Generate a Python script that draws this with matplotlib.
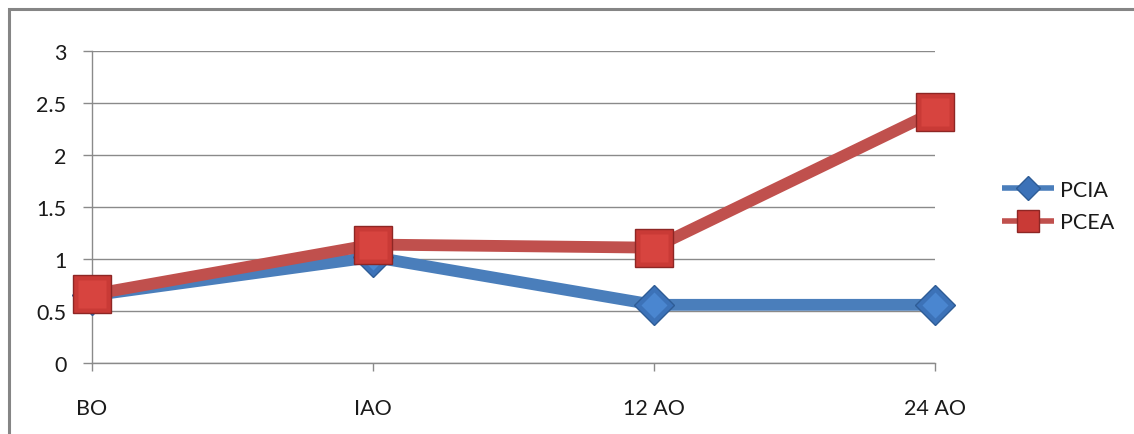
import matplotlib
matplotlib.use("Agg")
import matplotlib.pyplot as plt
from matplotlib.patches import Rectangle
from matplotlib.ticker import FuncFormatter
import numpy as np

categories = ["BO", "IAO", "12 AO", "24 AO"]
pcia = [0.65, 1.02, 0.56, 0.56]
pcea = [0.66, 1.14, 1.11, 2.42]
yticks = [0, 0.5, 1, 1.5, 2, 2.5, 3]

plt.rcParams['font.family'] = ['Lato', 'DejaVu Sans']
FS = 15.5
TXT = "#1a1a1a"
GRID = "#8a8a8a"

fig = plt.figure(figsize=(11.34, 4.35), dpi=100)
ax = fig.add_axes([92 / 1134, 1 - 364 / 435, (935 - 92) / 1134, (364 - 52.3) / 435])

# chart-area border (top and left visible)
fig.patches.append(Rectangle((8.5 / 1134, -0.1), 1.2, (435 - 9.5) / 435 + 0.1,
                             transform=fig.transFigure, fill=False,
                             edgecolor="#858585", linewidth=2.2, zorder=0))

x = np.arange(len(categories))

blue = "#4A7EBB"
red = "#C0504D"

# PCIA
ax.plot(x, pcia, color=blue, lw=8.5, solid_capstyle="butt", zorder=3,
        marker="D", ms=20, mfc="#3C72B8", mec="#2E5C96", mew=1.0, label="PCIA",
        clip_on=False)
ax.plot(x, pcia, ls="none", marker="D", ms=13, mfc="#4A86D0", mec="none",
        zorder=3.1, clip_on=False)

# PCEA
ax.plot(x, pcea, color=red, lw=8.5, solid_capstyle="butt", zorder=4,
        marker="s", ms=27, mfc="#C93A36", mec="#8E2624", mew=1.0, label="PCEA",
        clip_on=False)
ax.plot(x, pcea, ls="none", marker="s", ms=20, mfc="#D7443F", mec="none",
        zorder=4.1, clip_on=False)

ax.set_xlim(0, 3)
ax.set_ylim(0, 3)
ax.set_yticks(yticks)
ax.yaxis.set_major_formatter(FuncFormatter(lambda v, p: f"{v:g}"))
ax.set_xticks(x)
ax.set_xticklabels(categories)

ax.grid(axis="y", color=GRID, lw=1.0, zorder=1)
ax.set_axisbelow(True)
for s in ["top", "right"]:
    ax.spines[s].set_visible(False)
for s in ["left", "bottom"]:
    ax.spines[s].set_color(GRID)
    ax.spines[s].set_linewidth(1.0)

ax.tick_params(axis="y", direction="out", length=6.5, width=1, color=GRID,
               labelsize=FS, labelcolor=TXT, pad=12)
ax.tick_params(axis="x", direction="out", length=6, width=1, color=GRID,
               labelsize=FS, labelcolor=TXT, pad=19)

leg = ax.legend(loc="center left", bbox_to_anchor=(1002 / 1134, 1 - 207 / 435),
                bbox_transform=fig.transFigure, frameon=False, fontsize=FS,
                numpoints=1, markerscale=0.6, borderpad=0, borderaxespad=0,
                handlelength=2.4, handletextpad=0.3, labelspacing=0.6)
for h in leg.legend_handles:
    h.set_linewidth(4)
for t in leg.get_texts():
    t.set_color(TXT)

fig.savefig("out.png", dpi=100)
